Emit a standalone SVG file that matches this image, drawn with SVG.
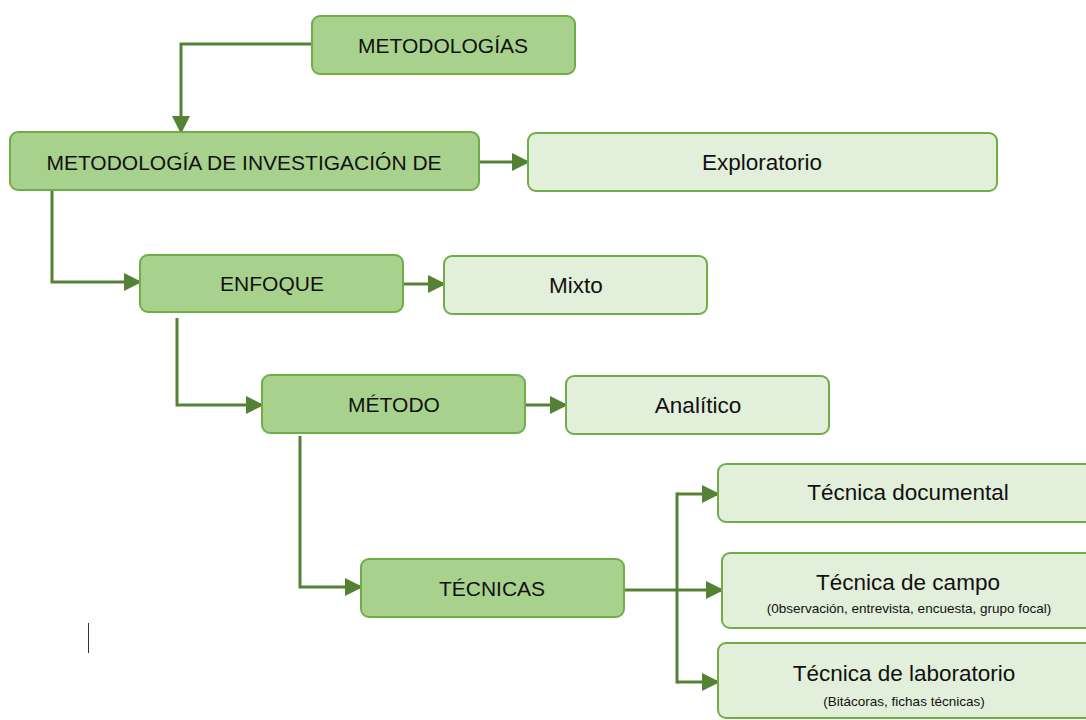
<svg xmlns="http://www.w3.org/2000/svg" width="1086" height="720" viewBox="0 0 1086 720">
<style>
.main{fill:#a9d18e;stroke:#70ad47;stroke-width:2}
.sub{fill:#e2efda;stroke:#70ad47;stroke-width:2}
.t{font-family:"Liberation Sans",Arial,sans-serif;font-size:21px;fill:#111;text-anchor:middle;dominant-baseline:central}
.l{font-family:"Liberation Sans",Arial,sans-serif;font-size:22.5px;fill:#111;text-anchor:middle;dominant-baseline:central}
.s{font-family:"Liberation Sans",Arial,sans-serif;font-size:13.5px;fill:#111;text-anchor:middle;dominant-baseline:central}
.c{fill:none;stroke:#548235;stroke-width:3}
</style>
<defs>
<marker id="a" markerWidth="6" markerHeight="6" refX="5" refY="3" orient="auto" markerUnits="strokeWidth">
<path d="M0,0 L6,3 L0,6 Z" fill="#548235"/>
</marker>
</defs>
<rect width="1086" height="720" fill="#fff"/>
<g id="connectors">
<path class="c" d="M312,44 H181 V131" marker-end="url(#a)"/>
<path class="c" d="M479,162 H527" marker-end="url(#a)"/>
<path class="c" d="M52,190 V282 H139" marker-end="url(#a)"/>
<path class="c" d="M403,284 H443" marker-end="url(#a)"/>
<path class="c" d="M177,318 V405 H261" marker-end="url(#a)"/>
<path class="c" d="M525,405 H565" marker-end="url(#a)"/>
<path class="c" d="M300,436 V587 H360" marker-end="url(#a)"/>
<path class="c" d="M624,590 H721" marker-end="url(#a)"/>
<path class="c" d="M677,494 H717" marker-end="url(#a)"/>
<path class="c" d="M677,682 H717" marker-end="url(#a)"/>
<path class="c" d="M677,492.5 V683.5"/>
</g>
<g id="metodologias"><rect class="main" x="312" y="16" width="263" height="58" rx="8"/><text class="t" x="443" y="45">METODOLOGÍAS</text></g>
<g id="metodologia-investigacion"><rect class="main" x="10" y="132" width="469" height="58" rx="8"/><text class="t" x="244" y="162">METODOLOGÍA DE INVESTIGACIÓN DE</text></g>
<g id="exploratorio"><rect class="sub" x="528" y="133" width="469" height="58" rx="8"/><text class="l" x="762" y="162">Exploratorio</text></g>
<g id="enfoque"><rect class="main" x="140" y="255" width="263" height="57" rx="8"/><text class="t" x="272" y="283">ENFOQUE</text></g>
<g id="mixto"><rect class="sub" x="444" y="256" width="263" height="58" rx="8"/><text class="l" x="576" y="285">Mixto</text></g>
<g id="metodo"><rect class="main" x="262" y="375" width="263" height="58" rx="8"/><text class="t" x="394" y="404">MÉTODO</text></g>
<g id="analitico"><rect class="sub" x="566" y="376" width="263" height="58" rx="8"/><text class="l" x="698" y="405">Analítico</text></g>
<g id="tecnicas"><rect class="main" x="361" y="559" width="263" height="58" rx="8"/><text class="t" x="492" y="588">TÉCNICAS</text></g>
<g id="tecnica-documental"><rect class="sub" x="718" y="464" width="380" height="58" rx="8"/><text class="l" x="908" y="492">Técnica documental</text></g>
<g id="tecnica-campo"><rect class="sub" x="722" y="553" width="376" height="75" rx="8"/><text class="l" x="908" y="582">Técnica de campo</text><text class="s" x="909" y="608">(0bservación, entrevista, encuesta, grupo focal)</text></g>
<g id="tecnica-laboratorio"><rect class="sub" x="718" y="643" width="380" height="75" rx="8"/><text class="l" x="904" y="673">Técnica de laboratorio</text><text class="s" x="904" y="701">(Bitácoras, fichas técnicas)</text></g>
<line x1="88.5" y1="623" x2="88.5" y2="653" stroke="#333" stroke-width="1"/>
</svg>
